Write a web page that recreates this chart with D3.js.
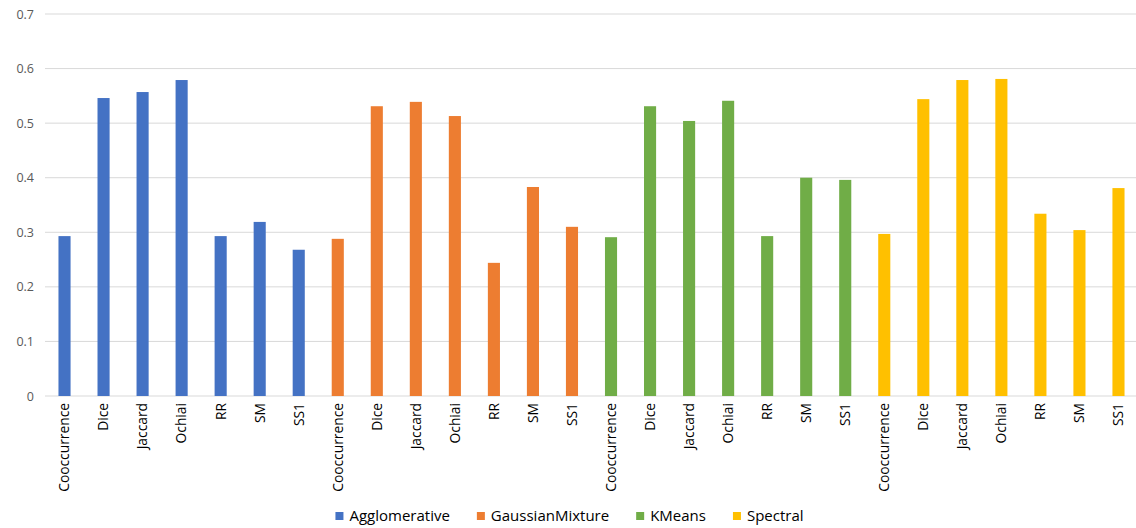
<!DOCTYPE html>
<html>
<head>
<meta charset="utf-8">
<script src="https://cdn.jsdelivr.net/npm/d3@7"></script>
<style>
  body { margin: 0; background: #fff; }
  text { font-family: "Open Sans", "Noto Sans", sans-serif; }
</style>
</head>
<body>
<svg id="drawing_region"></svg>
<script>
// methods (series) and measures (bars inside each method group)
const methods = ["Agglomerative", "GaussianMixture", "KMeans", "Spectral"];
const measures = ["Cooccurrence", "Dice", "Jaccard", "Ochiai", "RR", "SM", "SS1"];
const colors = ["#4472C4", "#ED7D31", "#70AD47", "#FFC000"];

const agglomerative = [0.293, 0.546, 0.557, 0.579, 0.293, 0.319, 0.268];
const gaussianMixture = [0.288, 0.531, 0.539, 0.513, 0.244, 0.383, 0.310];
const kMeans = [0.291, 0.531, 0.504, 0.541, 0.293, 0.400, 0.396];
const spectral = [0.297, 0.544, 0.579, 0.581, 0.334, 0.304, 0.381];

const yTicks = [0, 0.1, 0.2, 0.3, 0.4, 0.5, 0.6, 0.7];

const seriesValues = [agglomerative, gaussianMixture, kMeans, spectral];
const data = [];
methods.forEach((m, i) => {
    measures.forEach((k, j) => {
        data.push({ key: m + "|" + k, method: m, measure: k, value: seriesValues[i][j], color: colors[i] });
    });
});

const config = {
    width: 1136,
    height: 528,
    margin: { top: 14, right: -2, bottom: 132, left: 45 }
};

const svg = d3.select("#drawing_region")
    .attr("width", config.width)
    .attr("height", config.height);

const inner_width = config.width - config.margin.left - config.margin.right;
const inner_height = config.height - config.margin.top - config.margin.bottom;

const chart = svg.append("g")
    .attr("transform", `translate(${config.margin.left}, ${config.margin.top})`);

const xscale = d3.scaleBand()
    .domain(data.map(d => d.key))
    .range([0, inner_width])
    .paddingInner(0.69)
    .paddingOuter(0.345);

const yscale = d3.scaleLinear()
    .domain([0, 0.7])
    .range([inner_height, 0]);

// gridlines
chart.append("g")
    .selectAll("line")
    .data(yTicks)
    .join("line")
    .attr("x1", 0)
    .attr("x2", inner_width)
    .attr("y1", d => yscale(d))
    .attr("y2", d => yscale(d))
    .attr("stroke", "#d9d9d9")
    .attr("stroke-width", 1);

// y axis labels
const yaxis = d3.axisLeft(yscale)
    .tickValues(yTicks)
    .tickFormat(d => d === 0 ? "0" : d3.format(".1f")(d))
    .tickSize(0)
    .tickPadding(11);

chart.append("g")
    .call(yaxis)
    .call(g => g.select(".domain").remove())
    .selectAll("text")
    .attr("fill", "#595959")
    .style("font-size", "12.5px");

// bars
chart.selectAll("rect.bar")
    .data(data)
    .join("rect")
    .attr("class", "bar")
    .attr("x", d => xscale(d.key))
    .attr("y", d => yscale(d.value))
    .attr("width", xscale.bandwidth())
    .attr("height", d => inner_height - yscale(d.value))
    .attr("fill", d => d.color);

// x axis labels
const xaxis = d3.axisBottom(xscale)
    .tickSize(0)
    .tickFormat(k => k.split("|")[1]);

chart.append("g")
    .attr("transform", `translate(0, ${inner_height})`)
    .call(xaxis)
    .call(g => g.select(".domain").remove())
    .selectAll("text")
    .attr("transform", "rotate(-90)")
    .attr("text-anchor", "end")
    .attr("dy", "0.35em")
    .attr("x", -7)
    .attr("y", 0)
    .attr("fill", "#000")
    .style("font-size", "13.8px");

// legend
const legend = svg.append("g");
const items = legend.selectAll("g")
    .data(methods)
    .join("g");

items.append("rect")
    .attr("width", 8)
    .attr("height", 8)
    .attr("y", -4)
    .attr("fill", (d, i) => colors[i]);

items.append("text")
    .attr("x", 14)
    .attr("dy", "0.35em")
    .attr("fill", "#000")
    .style("font-size", "15px")
    .text(d => d);

let offset = 0;
items.each(function () {
    const g = d3.select(this);
    g.attr("transform", `translate(${offset}, 0)`);
    offset += this.getBBox().width + 27;
});
const totalWidth = offset - 27;
legend.attr("transform", `translate(${569.5 - totalWidth / 2}, 516)`);
</script>
</body>
</html>
